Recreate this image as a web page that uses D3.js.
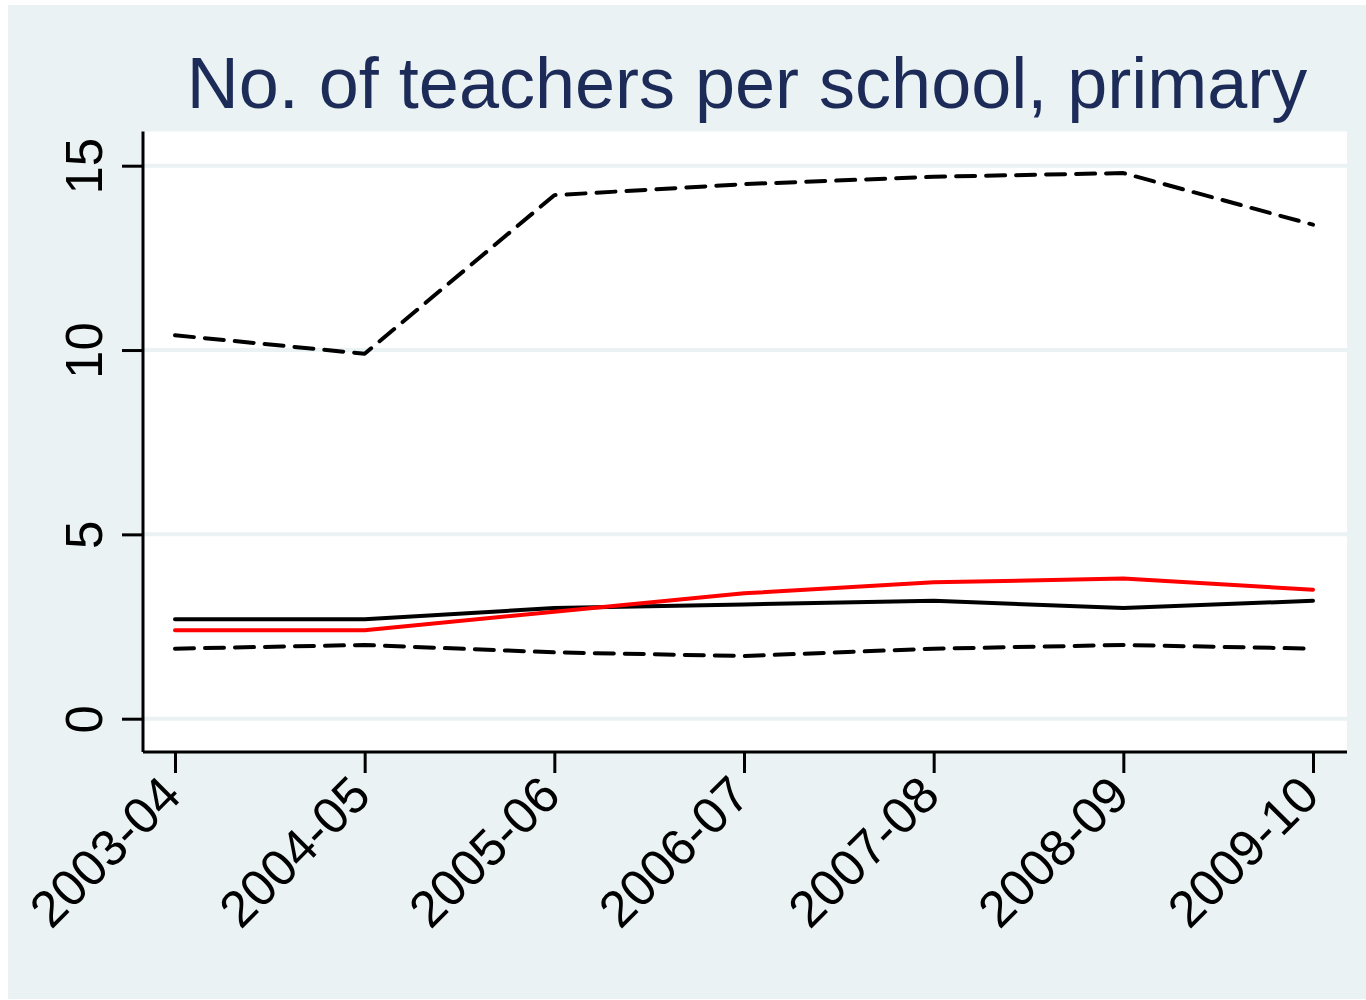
<!DOCTYPE html>
<html>
<head>
<meta charset="utf-8">
<script src="https://cdn.jsdelivr.net/npm/d3@7"></script>
<style>
  html, body { margin: 0; padding: 0; background: #ffffff; }
  svg { display: block; }
  text { font-family: "Liberation Sans", Arial, Helvetica, sans-serif; }
</style>
</head>
<body>
<script>
// School years on the x axis
const years = ["2003-04", "2004-05", "2005-06", "2006-07", "2007-08", "2008-09", "2009-10"];
const yTicks = [0, 5, 10, 15];

// Teachers per school, primary
const upperDashed = [10.4, 9.9, 14.2, 14.5, 14.7, 14.8, 13.4];
const blackSolid  = [2.7, 2.7, 3.0, 3.1, 3.2, 3.0, 3.2];
const redSolid    = [2.4, 2.4, 2.9, 3.4, 3.7, 3.8, 3.5];
const lowerDashed = [1.9, 2.0, 1.8, 1.7, 1.9, 2.0, 1.9];

const series = [
  { values: upperDashed, color: "#000000", dash: "19 11" },
  { values: lowerDashed, color: "#000000", dash: "19 11" },
  { values: blackSolid,  color: "#000000", dash: null },
  { values: redSolid,    color: "#ff0000", dash: null }
];

const W = 1366, H = 1000;
const bg = "#eaf2f3";
const frame = { left: 143, right: 1347, top: 131.5, bottom: 752 };

const svg = d3.select("body").append("svg")
  .attr("width", W).attr("height", H);

// outer graph region
svg.append("rect").attr("x", 8).attr("y", 5)
  .attr("width", W - 8).attr("height", H - 6).attr("fill", bg);

// plot region
svg.append("rect")
  .attr("x", frame.left).attr("y", frame.top)
  .attr("width", frame.right - frame.left)
  .attr("height", frame.bottom - frame.top)
  .attr("fill", "#ffffff");

const x = d3.scalePoint().domain(years).range([175, 1313]);
const y = d3.scaleLinear().domain([0, 15]).range([718.7, 165.7]);

// horizontal grid lines
svg.append("g").selectAll("line").data(yTicks).join("line")
  .attr("x1", frame.left).attr("x2", frame.right)
  .attr("y1", d => y(d)).attr("y2", d => y(d))
  .attr("stroke", bg).attr("stroke-width", 4);

// series lines
const line = d3.line().x((d, i) => x(years[i])).y(d => y(d));
svg.append("g").selectAll("path").data(series).join("path")
  .attr("d", d => line(d.values))
  .attr("fill", "none")
  .attr("stroke", d => d.color)
  .attr("stroke-width", 4)
  .attr("stroke-linejoin", "round")
  .attr("stroke-linecap", "round")
  .attr("stroke-dasharray", d => d.dash);

// y axis
const yAxis = svg.append("g").attr("transform", `translate(${frame.left},0)`)
  .call(d3.axisLeft(y).tickValues(yTicks).tickSize(21).tickPadding(0).tickFormat(d3.format("d")));
yAxis.select(".domain").attr("d", `M0,${frame.top}V${frame.bottom}`)
  .attr("stroke", "#000").attr("stroke-width", 3);
yAxis.selectAll(".tick line").attr("stroke", "#000").attr("stroke-width", 3);
yAxis.selectAll(".tick text")
  .attr("x", null).attr("dy", null)
  .attr("transform", "translate(-41,0) rotate(-90)")
  .attr("text-anchor", "middle")
  .attr("fill", "#000")
  .style("font-size", "51px");

// x axis
const xAxis = svg.append("g").attr("transform", `translate(0,${frame.bottom})`)
  .call(d3.axisBottom(x).tickSize(21).tickPadding(0));
xAxis.select(".domain").attr("d", `M${frame.left},0H${frame.right}`)
  .attr("stroke", "#000").attr("stroke-width", 3);
xAxis.selectAll(".tick line").attr("stroke", "#000").attr("stroke-width", 3);
xAxis.selectAll(".tick text")
  .attr("y", null).attr("dy", null)
  .attr("transform", "translate(8,46) rotate(-45)")
  .attr("text-anchor", "end")
  .attr("fill", "#000")
  .style("font-size", "51px");

// title
svg.append("text")
  .attr("x", (frame.left + frame.right) / 2 + 2)
  .attr("y", 108)
  .attr("text-anchor", "middle")
  .attr("fill", "#1c2b58")
  .style("font-size", "72px")
  .text("No. of teachers per school, primary");
</script>
</body>
</html>
